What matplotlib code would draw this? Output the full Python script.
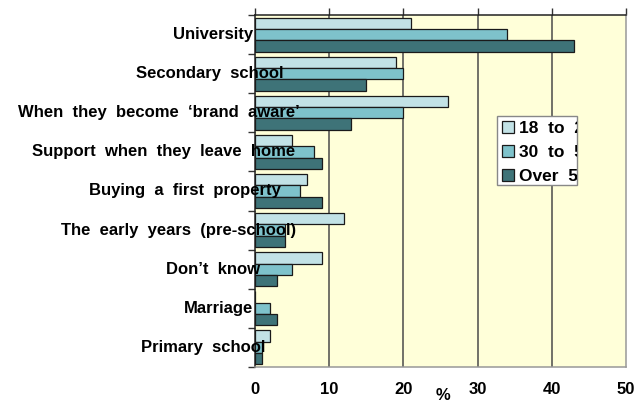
import matplotlib.pyplot as plt
import numpy as np
from matplotlib.patches import Rectangle
from matplotlib.transforms import Bbox, TransformedBbox, offset_copy

plt.rcParams['font.family'] = 'Liberation Sans'
plt.rcParams['font.weight'] = 'bold'

categories = ['University', 'Secondary  school', 'When  they  become  \u2018brand  aware\u2019',
              'Support  when  they  leave  home', 'Buying  a  first  property',
              'The  early  years  (pre-school)', 'Don\u2019t  know', 'Marriage', 'Primary  school']
age_18_29 = [21, 19, 26, 5, 7, 12, 9, 0, 2]
age_30_50 = [34, 20, 20, 8, 6, 4, 5, 2, 1]
over_50 = [43, 15, 13, 9, 9, 4, 3, 3, 1]
series_names = ['18  to  29', '30  to  50', 'Over  50']
xticks = [0, 10, 20, 30, 40, 50]

# how far (px) each label's right end sits past the axis line
label_shift = [-2, 28, 45, 40, 26, 41, 5, -2, 10]

colors = ['#c2e2e6', '#7ec2cb', '#3e7378']

fig = plt.figure(figsize=(6.39, 4.03), dpi=100)
ax = fig.add_axes([255 / 639, 36 / 403, 371 / 639, 352 / 403])
ax.set_facecolor('#ffffd9')

y = np.arange(len(categories))
h = 0.29
for i, vals in enumerate([age_18_29, age_30_50, over_50]):
    ax.barh(y + (i - 1) * h, vals, height=h, color=colors[i],
            edgecolor='#1a1a1a', linewidth=0.9, label=series_names[i], zorder=3)

ax.set_xlim(0, 50)
ax.set_ylim(len(categories) - 0.5, -0.5)
ax.set_xticks(xticks)
ax.set_xticklabels([str(t) for t in xticks], fontsize=12, fontweight='bold')
for xv in xticks[1:-1]:
    ax.axvline(xv, color='#4a4a4a', lw=1.1, zorder=1)

ax.tick_params(axis='x', top=True, bottom=False, labelbottom=True, labeltop=False,
               direction='out', length=5, width=1, color='#333333', pad=6)
ax.set_yticks([])
ax.set_yticks(np.arange(len(categories) + 1) - 0.5, minor=True)
ax.tick_params(axis='y', which='minor', left=True, direction='out', length=5,
               width=1, color='#333333')

for side in ['left', 'top']:
    ax.spines[side].set_color('#222222')
    ax.spines[side].set_linewidth(1.1)
for side in ['right', 'bottom']:
    ax.spines[side].set_color('#999999')
    ax.spines[side].set_linewidth(1.1)

for i, name in enumerate(categories):
    tr = offset_copy(ax.get_yaxis_transform(), fig=fig, x=label_shift[i], y=0, units='dots')
    ax.text(0, i, name, transform=tr, ha='right', va='center', fontsize=12,
            fontweight='bold', zorder=6, clip_on=False)

ax.text(443 / 639, 8 / 403, '%', transform=fig.transFigure, ha='center',
        va='center', fontsize=12, fontweight='bold')

# legend box, narrower than its labels so the text gets cut at the frame
box = (0.652, 0.517, 0.868 - 0.652, 0.713 - 0.517)
ax.add_patch(Rectangle(box[:2], box[2], box[3], transform=ax.transAxes,
                       facecolor='white', edgecolor='#888888', lw=1, zorder=7))
leg = ax.legend(loc='upper left', bbox_to_anchor=(box[0], box[1] + box[3]),
                frameon=False, fontsize=12.5, handlelength=0.7, handleheight=0.7,
                handletextpad=0.25, borderpad=0.3, labelspacing=0.5,
                borderaxespad=0)
leg.set_zorder(8)
clip = TransformedBbox(Bbox.from_bounds(*box), ax.transAxes)
for t in leg.get_texts():
    t.set_clip_box(clip)
    t.set_clip_on(True)

fig.savefig('out.png', dpi=100)
